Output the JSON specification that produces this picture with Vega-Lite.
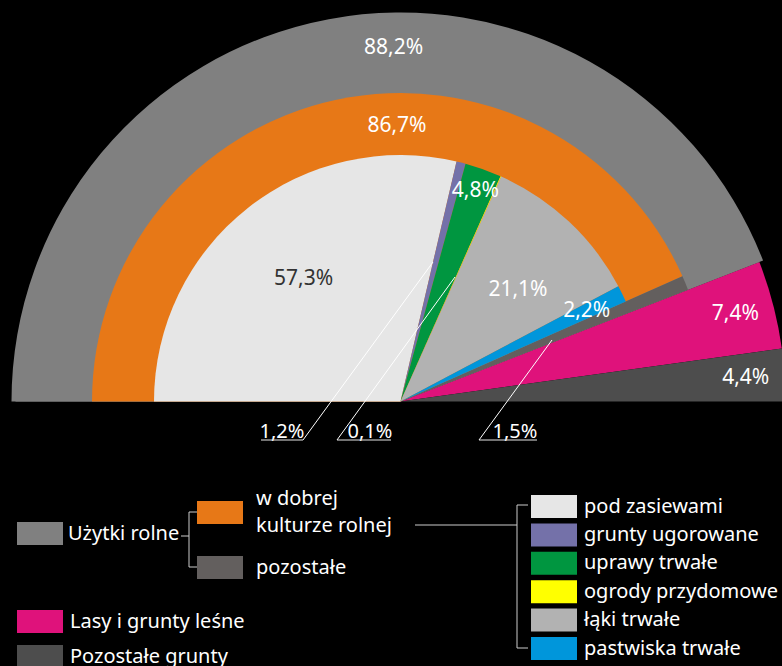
{
  "$schema": "https://vega.github.io/schema/vega-lite/v6.json",
  "background": "#000000",
  "autosize": {"type": "none"},
  "padding": {"left": 19, "top": 137, "right": 0, "bottom": 0},
  "width": 763,
  "height": 529,
  "config": {
    "view": {"stroke": null},
    "font": "Noto Sans",
    "axis": {"disable": true},
    "locale": {"number": {"decimal": ",", "thousands": " ", "grouping": [3], "currency": ["", "%"]}},
    "legend": {
      "symbolType": "M-1,-1H3V1H-1Z",
      "symbolSize": 529,
      "symbolStrokeWidth": 0,
      "symbolOpacity": 1,
      "labelFont": "Noto Sans",
      "labelFontSize": 20,
      "labelColor": "#ffffff",
      "labelLimit": 400,
      "padding": 0,
      "rowPadding": 5.4
    }
  },
  "data": {"values": [
    {"ring": "outer", "cat": "Użytki rolne", "value": 88.2, "o": 1},
    {"ring": "outer", "cat": "Lasy i grunty leśne", "value": 7.4, "o": 2},
    {"ring": "outer", "cat": "Pozostałe grunty", "value": 4.4, "o": 3},
    {"ring": "middle", "cat": "w dobrej kulturze rolnej", "value": 86.7, "o": 1},
    {"ring": "middle", "cat": "pozostałe", "value": 1.5, "o": 2},
    {"ring": "inner", "cat": "pod zasiewami", "value": 57.3, "o": 1},
    {"ring": "inner", "cat": "grunty ugorowane", "value": 1.2, "o": 2},
    {"ring": "inner", "cat": "uprawy trwałe", "value": 4.8, "o": 3},
    {"ring": "inner", "cat": "ogrody przydomowe", "value": 0.1, "o": 4},
    {"ring": "inner", "cat": "łąki trwałe", "value": 21.1, "o": 5},
    {"ring": "inner", "cat": "pastwiska trwałe", "value": 2.2, "o": 6}
  ]},
  "resolve": {"scale": {"color": "independent"}},
  "layer": [
    {
      "transform": [{"filter": "datum.ring === 'outer'"}],
      "mark": {"type": "arc", "radius": 385},
      "encoding": {
        "theta": {"field": "value", "type": "quantitative", "stack": true, "scale": {"domain": [0, 100], "range": [-1.5707963, 1.5707963]}},
        "order": {"field": "o", "type": "quantitative"},
        "color": {"field": "cat", "type": "nominal",
          "scale": {"domain": ["Użytki rolne", "Lasy i grunty leśne", "Pozostałe grunty"], "range": ["#808080", "#df127b", "#4d4d4d"]},
          "legend": {"values": ["Lasy i grunty leśne", "Pozostałe grunty"], "orient": "none", "legendX": -2, "legendY": 473, "title": null, "rowPadding": 12, "labelOffset": 30}}
      }
    },
    {
      "transform": [{"filter": "datum.ring === 'outer' && datum.cat === 'Użytki rolne'"}],
      "mark": {"type": "arc", "radius": 389},
      "encoding": {
        "theta": {"field": "value", "type": "quantitative", "stack": true, "scale": {"domain": [0, 100], "range": [-1.5707963, 1.5707963]}},
        "order": {"field": "o", "type": "quantitative"},
        "color": {"field": "cat", "type": "nominal",
          "scale": {"domain": ["Użytki rolne"], "range": ["#808080"]},
          "legend": {"orient": "none", "legendX": -2, "legendY": 385, "title": null, "labelOffset": 28}}
      }
    },
    {
      "transform": [{"filter": "datum.ring === 'middle'"}],
      "mark": {"type": "arc", "radius": 308.5},
      "encoding": {
        "theta": {"field": "value", "type": "quantitative", "stack": true, "scale": {"domain": [0, 100], "range": [-1.5707963, 1.5707963]}},
        "order": {"field": "o", "type": "quantitative"},
        "color": {"field": "cat", "type": "nominal",
          "scale": {"domain": ["w dobrej kulturze rolnej", "pozostałe"], "range": ["#e77817", "#635f5e"]},
          "legend": {"orient": "none", "legendX": 178, "legendY": 364, "title": null, "labelOffset": 36, "rowPadding": 20,
            "labelExpr": "datum.label === 'w dobrej kulturze rolnej' ? ['w dobrej', 'kulturze rolnej'] : datum.label",
            "encode": {"labels": {"update": {"lineHeight": {"value": 27}, "dy": {"signal": "datum.value === 'w dobrej kulturze rolnej' ? -13.5 : 0"}}}}}}
      }
    },
    {
      "transform": [{"filter": "datum.ring === 'inner'"}],
      "mark": {"type": "arc", "radius": 246.5},
      "encoding": {
        "theta": {"field": "value", "type": "quantitative", "stack": true, "scale": {"domain": [0, 100], "range": [-1.5707963, 1.5707963]}},
        "order": {"field": "o", "type": "quantitative"},
        "color": {"field": "cat", "type": "nominal",
          "scale": {"domain": ["pod zasiewami", "grunty ugorowane", "uprawy trwałe", "ogrody przydomowe", "łąki trwałe", "pastwiska trwałe"],
                    "range": ["#e6e6e6", "#7471a9", "#009640", "#ffff00", "#b2b2b2", "#0096db"]},
          "legend": {"orient": "none", "legendX": 512, "legendY": 358, "title": null, "labelOffset": 30}}
      }
    },
    {
      "transform": [{"filter": "datum.ring === 'outer' && datum.cat === 'Użytki rolne'"}],
      "mark": {"type": "text", "radius": 354, "thetaOffset": 0.166, "fontSize": 21, "color": "#ffffff"},
      "encoding": {
        "theta": {"field": "value", "type": "quantitative", "stack": true, "scale": {"domain": [0, 100], "range": [-1.5707963, 1.5707963]}},
        "order": {"field": "o", "type": "quantitative"},
        "detail": {"field": "cat"},
        "text": {"field": "value", "type": "quantitative", "format": "$.1f"}
      }
    },
    {
      "transform": [{"filter": "datum.ring === 'middle' && datum.cat === 'w dobrej kulturze rolnej'"}],
      "mark": {"type": "text", "radius": 275.5, "thetaOffset": 0.196, "fontSize": 21, "color": "#ffffff"},
      "encoding": {
        "theta": {"field": "value", "type": "quantitative", "stack": true, "scale": {"domain": [0, 100], "range": [-1.5707963, 1.5707963]}},
        "order": {"field": "o", "type": "quantitative"},
        "detail": {"field": "cat"},
        "text": {"field": "value", "type": "quantitative", "format": "$.1f"}
      }
    },
    {
      "transform": [{"filter": "datum.ring === 'outer'"}],
      "mark": {"type": "text", "radius": 346, "fontSize": 21, "color": "#ffffff"},
      "encoding": {
        "theta": {"field": "value", "type": "quantitative", "stack": true, "scale": {"domain": [0, 100], "range": [-1.5707963, 1.5707963]}},
        "order": {"field": "o", "type": "quantitative"},
        "detail": {"field": "cat"},
        "text": {"condition": {"test": "datum.cat !== 'Użytki rolne'", "field": "value", "type": "quantitative", "format": "$.1f"}, "value": ""}
      }
    },
    {
      "transform": [{"filter": "datum.ring === 'inner' && datum.cat === 'pod zasiewami'"}],
      "mark": {"type": "text", "radius": 156, "fontSize": 21, "color": "#333333"},
      "encoding": {
        "theta": {"field": "value", "type": "quantitative", "stack": true, "scale": {"domain": [0, 100], "range": [-1.5707963, 1.5707963]}},
        "order": {"field": "o", "type": "quantitative"},
        "detail": {"field": "cat"},
        "text": {"field": "value", "type": "quantitative", "format": "$.1f"}
      }
    },
    {
      "transform": [{"filter": "datum.ring === 'inner'"}],
      "mark": {"type": "text", "radius": 223, "fontSize": 21, "color": "#ffffff"},
      "encoding": {
        "theta": {"field": "value", "type": "quantitative", "stack": true, "scale": {"domain": [0, 100], "range": [-1.5707963, 1.5707963]}},
        "order": {"field": "o", "type": "quantitative"},
        "detail": {"field": "cat"},
        "text": {"condition": {"test": "datum.cat === 'uprawy trwałe'", "field": "value", "type": "quantitative", "format": "$.1f"}, "value": ""}
      }
    },
    {
      "transform": [{"filter": "datum.ring === 'inner'"}],
      "mark": {"type": "text", "radius": 162, "thetaOffset": 0.059, "fontSize": 21, "color": "#ffffff"},
      "encoding": {
        "theta": {"field": "value", "type": "quantitative", "stack": true, "scale": {"domain": [0, 100], "range": [-1.5707963, 1.5707963]}},
        "order": {"field": "o", "type": "quantitative"},
        "detail": {"field": "cat"},
        "text": {"condition": {"test": "datum.cat === 'łąki trwałe'", "field": "value", "type": "quantitative", "format": "$.1f"}, "value": ""}
      }
    },
    {
      "transform": [{"filter": "datum.ring === 'inner'"}],
      "mark": {"type": "text", "radius": 207, "fontSize": 21, "color": "#ffffff"},
      "encoding": {
        "theta": {"field": "value", "type": "quantitative", "stack": true, "scale": {"domain": [0, 100], "range": [-1.5707963, 1.5707963]}},
        "order": {"field": "o", "type": "quantitative"},
        "detail": {"field": "cat"},
        "text": {"condition": {"test": "datum.cat === 'pastwiska trwałe'", "field": "value", "type": "quantitative", "format": "$.1f"}, "value": ""}
      }
    },
    {
      "transform": [{"filter": "datum.cat === 'grunty ugorowane'"}],
      "mark": {"type": "text", "fontSize": 20, "color": "#ffffff"},
      "encoding": {
        "x": {"datum": -118.5, "type": "quantitative", "scale": {"domain": [-381.5, 381.5], "nice": false, "zero": false}, "axis": null},
        "y": {"datum": -30.5, "type": "quantitative", "scale": {"domain": [-264.5, 264.5], "nice": false, "zero": false}, "axis": null},
        "text": {"field": "value", "type": "quantitative", "format": "$.1f"}
      }
    },
    {
      "transform": [{"filter": "datum.cat === 'ogrody przydomowe'"}],
      "mark": {"type": "text", "fontSize": 20, "color": "#ffffff"},
      "encoding": {
        "x": {"datum": -30.5, "type": "quantitative", "scale": {"domain": [-381.5, 381.5], "nice": false, "zero": false}, "axis": null},
        "y": {"datum": -30.5, "type": "quantitative", "scale": {"domain": [-264.5, 264.5], "nice": false, "zero": false}, "axis": null},
        "text": {"field": "value", "type": "quantitative", "format": "$.1f"}
      }
    },
    {
      "transform": [{"filter": "datum.cat === 'pozostałe'"}],
      "mark": {"type": "text", "fontSize": 20, "color": "#ffffff"},
      "encoding": {
        "x": {"datum": 114.5, "type": "quantitative", "scale": {"domain": [-381.5, 381.5], "nice": false, "zero": false}, "axis": null},
        "y": {"datum": -30.5, "type": "quantitative", "scale": {"domain": [-264.5, 264.5], "nice": false, "zero": false}, "axis": null},
        "text": {"field": "value", "type": "quantitative", "format": "$.1f"}
      }
    },
    {"data": {"values": [{}]}, "mark": {"type": "rule", "color": "#ffffff", "strokeWidth": 1},
     "encoding": {"x": {"datum": -97.5, "type": "quantitative", "axis": null}, "x2": {"datum": 32.5}, "y": {"datum": -38.5, "type": "quantitative", "axis": null}, "y2": {"datum": 139.5}}},
    {"data": {"values": [{}]}, "mark": {"type": "rule", "color": "#e6e6e6", "strokeWidth": 1},
     "encoding": {"x": {"datum": -139.5, "type": "quantitative", "axis": null}, "x2": {"datum": -97.5}, "y": {"datum": -38.5, "type": "quantitative", "axis": null}}},
    {"data": {"values": [{}]}, "mark": {"type": "rule", "color": "#ffffff", "strokeWidth": 1},
     "encoding": {"x": {"datum": -63.5, "type": "quantitative", "axis": null}, "x2": {"datum": 54.5}, "y": {"datum": -38.5, "type": "quantitative", "axis": null}, "y2": {"datum": 124.5}}},
    {"data": {"values": [{}]}, "mark": {"type": "rule", "color": "#e6e6e6", "strokeWidth": 1},
     "encoding": {"x": {"datum": -63.5, "type": "quantitative", "axis": null}, "x2": {"datum": -9.5}, "y": {"datum": -38.5, "type": "quantitative", "axis": null}}},
    {"data": {"values": [{}]}, "mark": {"type": "rule", "color": "#ffffff", "strokeWidth": 1},
     "encoding": {"x": {"datum": 78.5, "type": "quantitative", "axis": null}, "x2": {"datum": 151.5}, "y": {"datum": -38.5, "type": "quantitative", "axis": null}, "y2": {"datum": 61.5}}},
    {"data": {"values": [{}]}, "mark": {"type": "rule", "color": "#e6e6e6", "strokeWidth": 1},
     "encoding": {"x": {"datum": 78.5, "type": "quantitative", "axis": null}, "x2": {"datum": 136.5}, "y": {"datum": -38.5, "type": "quantitative", "axis": null}}},
    {"data": {"values": [{}]}, "mark": {"type": "rule", "color": "#cccccc", "strokeWidth": 1},
     "encoding": {"x": {"datum": -219.5, "type": "quantitative", "axis": null}, "x2": {"datum": -211.5}, "y": {"datum": -134.5, "type": "quantitative", "axis": null}}},
    {"data": {"values": [{}]}, "mark": {"type": "rule", "color": "#cccccc", "strokeWidth": 1},
     "encoding": {"x": {"datum": -211.5, "type": "quantitative", "axis": null}, "y": {"datum": -110.5, "type": "quantitative", "axis": null}, "y2": {"datum": -165.5}}},
    {"data": {"values": [{}]}, "mark": {"type": "rule", "color": "#cccccc", "strokeWidth": 1},
     "encoding": {"x": {"datum": -211.5, "type": "quantitative", "axis": null}, "x2": {"datum": -203.5}, "y": {"datum": -110.5, "type": "quantitative", "axis": null}}},
    {"data": {"values": [{}]}, "mark": {"type": "rule", "color": "#cccccc", "strokeWidth": 1},
     "encoding": {"x": {"datum": -211.5, "type": "quantitative", "axis": null}, "x2": {"datum": -203.5}, "y": {"datum": -165.5, "type": "quantitative", "axis": null}}},
    {"data": {"values": [{}]}, "mark": {"type": "rule", "color": "#cccccc", "strokeWidth": 1},
     "encoding": {"x": {"datum": 14.5, "type": "quantitative", "axis": null}, "x2": {"datum": 116.5}, "y": {"datum": -123.5, "type": "quantitative", "axis": null}}},
    {"data": {"values": [{}]}, "mark": {"type": "rule", "color": "#cccccc", "strokeWidth": 1},
     "encoding": {"x": {"datum": 116.5, "type": "quantitative", "axis": null}, "y": {"datum": -103.5, "type": "quantitative", "axis": null}, "y2": {"datum": -246.5}}},
    {"data": {"values": [{}]}, "mark": {"type": "rule", "color": "#cccccc", "strokeWidth": 1},
     "encoding": {"x": {"datum": 116.5, "type": "quantitative", "axis": null}, "x2": {"datum": 127.5}, "y": {"datum": -103.5, "type": "quantitative", "axis": null}}},
    {"data": {"values": [{}]}, "mark": {"type": "rule", "color": "#cccccc", "strokeWidth": 1},
     "encoding": {"x": {"datum": 116.5, "type": "quantitative", "axis": null}, "x2": {"datum": 127.5}, "y": {"datum": -246.5, "type": "quantitative", "axis": null}}}
  ]
}
